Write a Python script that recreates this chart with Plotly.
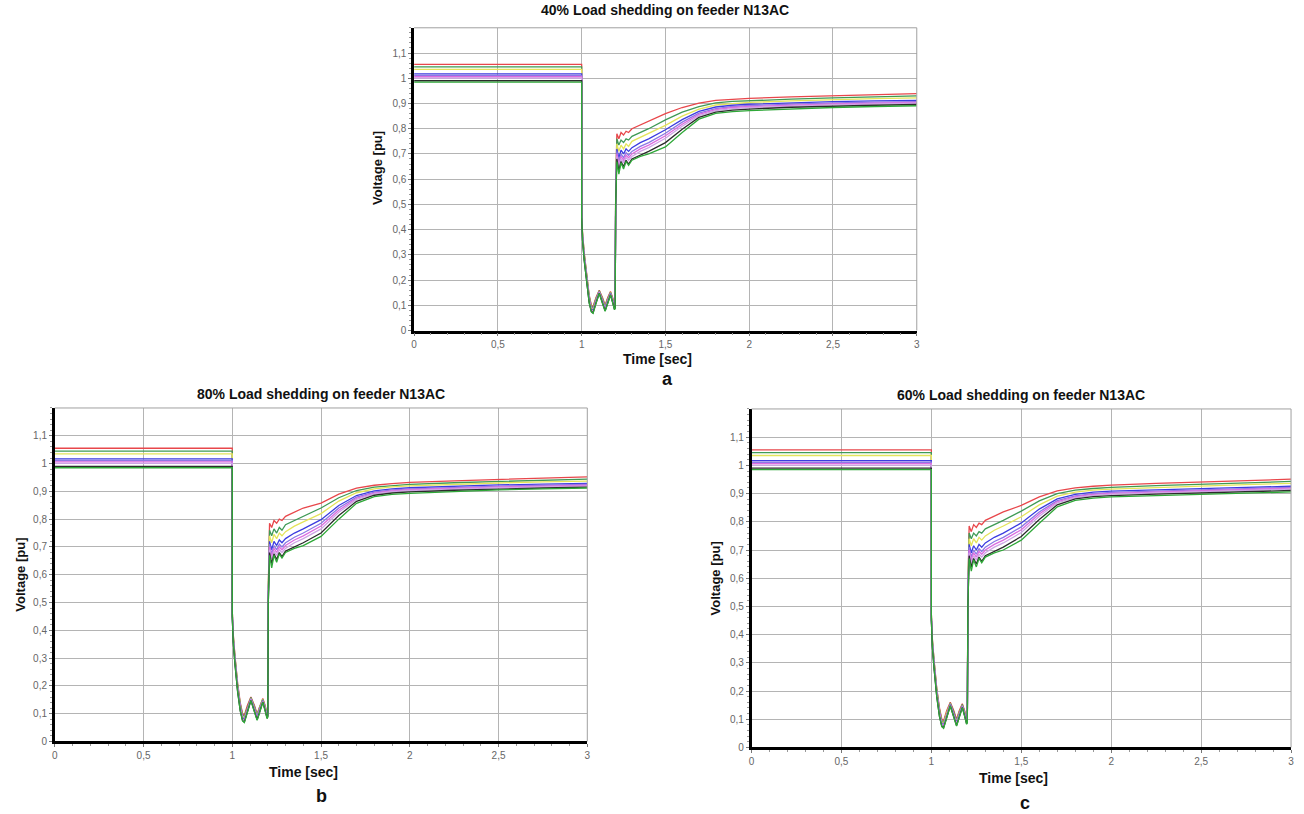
import plotly.graph_objects as go

# ---------------- data ----------------
SERIES_NAMES = ["red", "dkgreen", "yellow", "blue", "purple", "magenta", "pink", "black", "green"]
SERIES_COLORS = ["#e8474b", "#3f9a55", "#e4e45a", "#3c3ce0", "#8c78e4", "#dc6ce0", "#cfa2e6", "#2b2b2b", "#2fa838"]

# pre-fault voltage levels (t = 0 .. 1 s), identical in the three cases
PRE_LEVEL = [1.055, 1.045, 1.035, 1.017, 1.011, 1.006, 1.001, 0.990, 0.985]
T_PRE = [0.0, 1.0]

# fault period (t = 1.0 .. 1.2 s)
T_DIP = [1.0, 1.005, 1.015, 1.03, 1.045, 1.058, 1.068, 1.085, 1.105, 1.125, 1.14, 1.155, 1.172, 1.185, 1.196, 1.2]
DIP_RED = [0.47, 0.39, 0.31, 0.21, 0.14, 0.10, 0.095, 0.13, 0.16, 0.13, 0.10, 0.13, 0.155, 0.13, 0.10, 0.11]
DIP_DKGREEN = [0.47, 0.385, 0.305, 0.205, 0.135, 0.095, 0.09, 0.125, 0.158, 0.125, 0.095, 0.125, 0.152, 0.127, 0.097, 0.105]
DIP_YELLOW = [0.465, 0.38, 0.30, 0.20, 0.13, 0.09, 0.085, 0.122, 0.156, 0.122, 0.092, 0.122, 0.15, 0.124, 0.095, 0.10]
DIP_BLUE = [0.46, 0.375, 0.295, 0.195, 0.125, 0.085, 0.08, 0.118, 0.154, 0.118, 0.088, 0.118, 0.148, 0.12, 0.092, 0.098]
DIP_PURPLE = [0.46, 0.37, 0.29, 0.19, 0.12, 0.082, 0.077, 0.115, 0.152, 0.115, 0.085, 0.115, 0.146, 0.118, 0.09, 0.096]
DIP_MAGENTA = [0.455, 0.37, 0.29, 0.19, 0.12, 0.08, 0.075, 0.113, 0.151, 0.113, 0.083, 0.113, 0.145, 0.116, 0.088, 0.094]
DIP_PINK = [0.455, 0.365, 0.285, 0.185, 0.115, 0.078, 0.073, 0.111, 0.15, 0.111, 0.081, 0.111, 0.144, 0.114, 0.086, 0.092]
DIP_BLACK = [0.45, 0.36, 0.28, 0.18, 0.11, 0.075, 0.07, 0.108, 0.148, 0.108, 0.078, 0.108, 0.142, 0.112, 0.084, 0.09]
DIP_GREEN = [0.45, 0.36, 0.28, 0.18, 0.11, 0.074, 0.068, 0.106, 0.147, 0.106, 0.076, 0.106, 0.141, 0.11, 0.082, 0.088]

# recovery period (t = 1.2 .. 3 s)
T_REC = [1.203, 1.21, 1.222, 1.235, 1.25, 1.265, 1.28, 1.3, 1.35, 1.4, 1.5, 1.6, 1.7, 1.8, 1.9, 2.0, 2.25, 2.5, 2.75, 3.0]

# (a) 40% load shedding
A_RED = [0.56, 0.78, 0.76, 0.785, 0.775, 0.79, 0.785, 0.80, 0.815, 0.832, 0.86, 0.884, 0.901, 0.912, 0.917, 0.92, 0.926, 0.931, 0.935, 0.939]
A_DKGREEN = [0.55, 0.76, 0.735, 0.755, 0.745, 0.76, 0.755, 0.77, 0.785, 0.80, 0.835, 0.866, 0.888, 0.902, 0.908, 0.911, 0.917, 0.922, 0.926, 0.93]
A_YELLOW = [0.54, 0.74, 0.71, 0.735, 0.72, 0.74, 0.73, 0.75, 0.765, 0.78, 0.813, 0.85, 0.878, 0.894, 0.9, 0.904, 0.91, 0.915, 0.919, 0.922]
A_BLUE = [0.53, 0.72, 0.685, 0.715, 0.70, 0.72, 0.71, 0.725, 0.745, 0.76, 0.796, 0.836, 0.869, 0.886, 0.893, 0.897, 0.903, 0.907, 0.91, 0.912]
A_PURPLE = [0.52, 0.71, 0.67, 0.70, 0.685, 0.705, 0.695, 0.71, 0.73, 0.745, 0.782, 0.826, 0.862, 0.88, 0.888, 0.892, 0.898, 0.902, 0.905, 0.907]
A_MAGENTA = [0.52, 0.70, 0.66, 0.69, 0.675, 0.695, 0.685, 0.70, 0.72, 0.735, 0.772, 0.818, 0.857, 0.876, 0.884, 0.888, 0.894, 0.898, 0.901, 0.904]
A_PINK = [0.51, 0.69, 0.65, 0.68, 0.665, 0.685, 0.675, 0.69, 0.71, 0.725, 0.762, 0.81, 0.852, 0.872, 0.88, 0.884, 0.89, 0.895, 0.898, 0.901]
A_BLACK = [0.50, 0.68, 0.635, 0.67, 0.65, 0.675, 0.66, 0.68, 0.695, 0.71, 0.745, 0.798, 0.845, 0.866, 0.874, 0.878, 0.885, 0.89, 0.893, 0.896]
A_GREEN = [0.50, 0.67, 0.62, 0.665, 0.64, 0.67, 0.655, 0.675, 0.69, 0.70, 0.728, 0.785, 0.838, 0.861, 0.868, 0.872, 0.879, 0.884, 0.888, 0.891]

# (b) 80% load shedding
B_RED = [0.56, 0.785, 0.77, 0.795, 0.785, 0.80, 0.795, 0.81, 0.825, 0.84, 0.858, 0.89, 0.912, 0.922, 0.928, 0.932, 0.938, 0.943, 0.947, 0.952]
B_DKGREEN = [0.55, 0.76, 0.74, 0.765, 0.75, 0.77, 0.76, 0.78, 0.795, 0.81, 0.84, 0.877, 0.903, 0.915, 0.921, 0.925, 0.931, 0.936, 0.94, 0.944]
B_YELLOW = [0.54, 0.74, 0.715, 0.745, 0.73, 0.75, 0.74, 0.755, 0.775, 0.79, 0.82, 0.865, 0.895, 0.909, 0.916, 0.92, 0.926, 0.93, 0.934, 0.937]
B_BLUE = [0.53, 0.72, 0.69, 0.72, 0.705, 0.725, 0.715, 0.73, 0.75, 0.765, 0.798, 0.849, 0.885, 0.902, 0.909, 0.913, 0.919, 0.923, 0.926, 0.929]
B_PURPLE = [0.52, 0.71, 0.675, 0.705, 0.69, 0.71, 0.70, 0.715, 0.735, 0.75, 0.785, 0.84, 0.879, 0.897, 0.905, 0.909, 0.915, 0.919, 0.922, 0.925]
B_MAGENTA = [0.52, 0.70, 0.665, 0.695, 0.68, 0.70, 0.69, 0.705, 0.725, 0.74, 0.775, 0.832, 0.875, 0.894, 0.902, 0.906, 0.912, 0.916, 0.919, 0.922]
B_PINK = [0.51, 0.69, 0.655, 0.685, 0.67, 0.69, 0.68, 0.695, 0.715, 0.73, 0.765, 0.825, 0.871, 0.891, 0.899, 0.903, 0.909, 0.913, 0.916, 0.919]
B_BLACK = [0.50, 0.68, 0.64, 0.675, 0.655, 0.68, 0.665, 0.685, 0.70, 0.715, 0.75, 0.813, 0.864, 0.886, 0.894, 0.898, 0.904, 0.909, 0.912, 0.915]
B_GREEN = [0.50, 0.67, 0.625, 0.67, 0.645, 0.675, 0.66, 0.68, 0.695, 0.705, 0.738, 0.80, 0.857, 0.881, 0.889, 0.893, 0.90, 0.905, 0.909, 0.912]

# (c) 60% load shedding
C_RED = [0.56, 0.785, 0.765, 0.79, 0.78, 0.795, 0.79, 0.805, 0.82, 0.835, 0.858, 0.888, 0.91, 0.92, 0.926, 0.93, 0.936, 0.941, 0.946, 0.951]
C_DKGREEN = [0.55, 0.76, 0.74, 0.76, 0.75, 0.765, 0.76, 0.775, 0.79, 0.805, 0.838, 0.874, 0.90, 0.912, 0.918, 0.922, 0.928, 0.933, 0.938, 0.943]
C_YELLOW = [0.54, 0.74, 0.715, 0.74, 0.725, 0.745, 0.735, 0.75, 0.77, 0.785, 0.818, 0.86, 0.891, 0.905, 0.912, 0.916, 0.922, 0.927, 0.932, 0.936]
C_BLUE = [0.53, 0.72, 0.69, 0.715, 0.70, 0.72, 0.71, 0.725, 0.745, 0.76, 0.796, 0.845, 0.881, 0.897, 0.905, 0.909, 0.914, 0.918, 0.922, 0.926]
C_PURPLE = [0.52, 0.71, 0.675, 0.70, 0.685, 0.705, 0.695, 0.71, 0.73, 0.745, 0.782, 0.835, 0.875, 0.892, 0.90, 0.904, 0.909, 0.914, 0.918, 0.922]
C_MAGENTA = [0.52, 0.70, 0.665, 0.69, 0.675, 0.695, 0.685, 0.70, 0.72, 0.735, 0.772, 0.828, 0.871, 0.889, 0.897, 0.901, 0.906, 0.911, 0.915, 0.919]
C_PINK = [0.51, 0.69, 0.655, 0.68, 0.665, 0.685, 0.675, 0.69, 0.71, 0.725, 0.762, 0.82, 0.867, 0.886, 0.894, 0.898, 0.903, 0.908, 0.912, 0.916]
C_BLACK = [0.50, 0.68, 0.64, 0.67, 0.65, 0.675, 0.66, 0.68, 0.695, 0.71, 0.748, 0.808, 0.86, 0.881, 0.889, 0.893, 0.898, 0.903, 0.907, 0.911]
C_GREEN = [0.50, 0.67, 0.625, 0.665, 0.64, 0.67, 0.655, 0.675, 0.69, 0.70, 0.735, 0.795, 0.853, 0.876, 0.884, 0.888, 0.893, 0.898, 0.902, 0.906]

Y_TICKS = [0, 0.1, 0.2, 0.3, 0.4, 0.5, 0.6, 0.7, 0.8, 0.9, 1.0, 1.1]
Y_TICK_TEXT = ["0", "0,1", "0,2", "0,3", "0,4", "0,5", "0,6", "0,7", "0,8", "0,9", "1", "1,1"]
X_TICKS = [0, 0.5, 1, 1.5, 2, 2.5, 3]
X_TICK_TEXT = ["0", "0,5", "1", "1,5", "2", "2,5", "3"]

TITLES = ["40% Load shedding on feeder N13AC", "80% Load shedding on feeder N13AC", "60% Load shedding on feeder N13AC"]
PANEL_LETTERS = ["a", "b", "c"]

# ---------------- build ----------------
W, H = 1304, 814
DIP = [DIP_RED, DIP_DKGREEN, DIP_YELLOW, DIP_BLUE, DIP_PURPLE, DIP_MAGENTA, DIP_PINK, DIP_BLACK, DIP_GREEN]
REC = [
    [A_RED, A_DKGREEN, A_YELLOW, A_BLUE, A_PURPLE, A_MAGENTA, A_PINK, A_BLACK, A_GREEN],
    [B_RED, B_DKGREEN, B_YELLOW, B_BLUE, B_PURPLE, B_MAGENTA, B_PINK, B_BLACK, B_GREEN],
    [C_RED, C_DKGREEN, C_YELLOW, C_BLUE, C_PURPLE, C_MAGENTA, C_PINK, C_BLACK, C_GREEN],
]

# panel pixel boxes: left, right, top, bottom
BOXES = [(413, 918, 28, 333), (52, 587, 411, 747), (752, 1294, 412, 753)]
# (title y, xlabel x, xlabel y, ylabel x, ylabel y, letter x, letter y)
LABEL_POS = [
    (10, 658, 362, 376, 169, 668, 382),
    (397, 302, 778, 18, 579, 320, 802),
    (398, 1015, 784, 716, 583, 1027, 809),
]

FONT = "Liberation Sans, Arial, sans-serif"

fig = go.Figure()
layout = dict(
    width=W, height=H, autosize=False,
    margin=dict(l=0, r=0, t=0, b=0),
    paper_bgcolor="white", plot_bgcolor="white",
    showlegend=False,
    font=dict(family=FONT, size=10, color="#555555"),
    annotations=[], shapes=[],
)

for p in range(3):
    xa = "x" if p == 0 else f"x{p+1}"
    ya = "y" if p == 0 else f"y{p+1}"
    for s in range(len(SERIES_NAMES)):
        tx = T_PRE + T_DIP + T_REC
        vy = [PRE_LEVEL[s], PRE_LEVEL[s]] + DIP[s] + REC[p][s]
        fig.add_trace(go.Scatter(
            x=tx, y=vy, mode="lines", xaxis=xa, yaxis=ya,
            line=dict(color=SERIES_COLORS[s], width=1.3),
            name=SERIES_NAMES[s], hoverinfo="skip",
        ))
    l, r, t, b = BOXES[p]
    xdom = [l / W, r / W]
    ydom = [1 - b / H, 1 - t / H]
    xkey = "xaxis" if p == 0 else f"xaxis{p+1}"
    ykey = "yaxis" if p == 0 else f"yaxis{p+1}"
    layout[xkey] = dict(
        domain=xdom, range=[0, 3], anchor=ya,
        tickvals=X_TICKS, ticktext=X_TICK_TEXT,
        showgrid=True, gridcolor="#b4b4b4", gridwidth=1,
        showline=True, linecolor="black", linewidth=2.5,
        ticks="outside", ticklen=3, tickcolor="#777777",
        zeroline=False, tickfont=dict(size=10, color="#666666"),
        minor=dict(ticks="outside", ticklen=2, dtick=0.1, tickcolor="#999999", showgrid=False),
    )
    layout[ykey] = dict(
        domain=ydom, range=[0, 1.2], anchor=xa,
        tickvals=Y_TICKS, ticktext=Y_TICK_TEXT,
        showgrid=True, gridcolor="#b4b4b4", gridwidth=1,
        showline=True, linecolor="black", linewidth=2.5,
        ticks="outside", ticklen=3, tickcolor="#777777",
        zeroline=False, tickfont=dict(size=10, color="#666666"),
        minor=dict(ticks="outside", ticklen=2, dtick=0.02, tickcolor="#999999", showgrid=False),
    )
    # top and right frame lines (thin grey)
    layout["shapes"].append(dict(type="line", xref="paper", yref="paper",
                                 x0=xdom[0], x1=xdom[1], y0=ydom[1], y1=ydom[1],
                                 line=dict(color="#a0a0a0", width=1)))
    layout["shapes"].append(dict(type="line", xref="paper", yref="paper",
                                 x0=xdom[1], x1=xdom[1], y0=ydom[0], y1=ydom[1],
                                 line=dict(color="#a0a0a0", width=1)))
    ty, xlx, xly, ylx, yly, lx, ly = LABEL_POS[p]
    cx = (l + r) / 2 / W
    layout["annotations"].append(dict(
        text=f"<b>{TITLES[p]}</b>", x=cx, y=1 - ty / H, xref="paper", yref="paper",
        showarrow=False, xanchor="center", yanchor="middle",
        font=dict(family=FONT, size=14, color="#111111")))
    layout["annotations"].append(dict(
        text="<b>Time [sec]</b>", x=xlx / W, y=1 - xly / H, xref="paper", yref="paper",
        showarrow=False, xanchor="center", yanchor="middle",
        font=dict(family=FONT, size=14, color="#111111")))
    layout["annotations"].append(dict(
        text="<b>Voltage [pu]</b>", x=ylx / W, y=1 - yly / H, xref="paper", yref="paper",
        showarrow=False, xanchor="center", yanchor="middle", textangle=-90,
        font=dict(family=FONT, size=13, color="#111111")))
    layout["annotations"].append(dict(
        text=f"<b>{PANEL_LETTERS[p]}</b>", x=lx / W, y=1 - ly / H, xref="paper", yref="paper",
        showarrow=False, xanchor="center", yanchor="middle",
        font=dict(family=FONT, size=18, color="#111111")))

fig.update_layout(**layout)
fig.write_html("out.html")
